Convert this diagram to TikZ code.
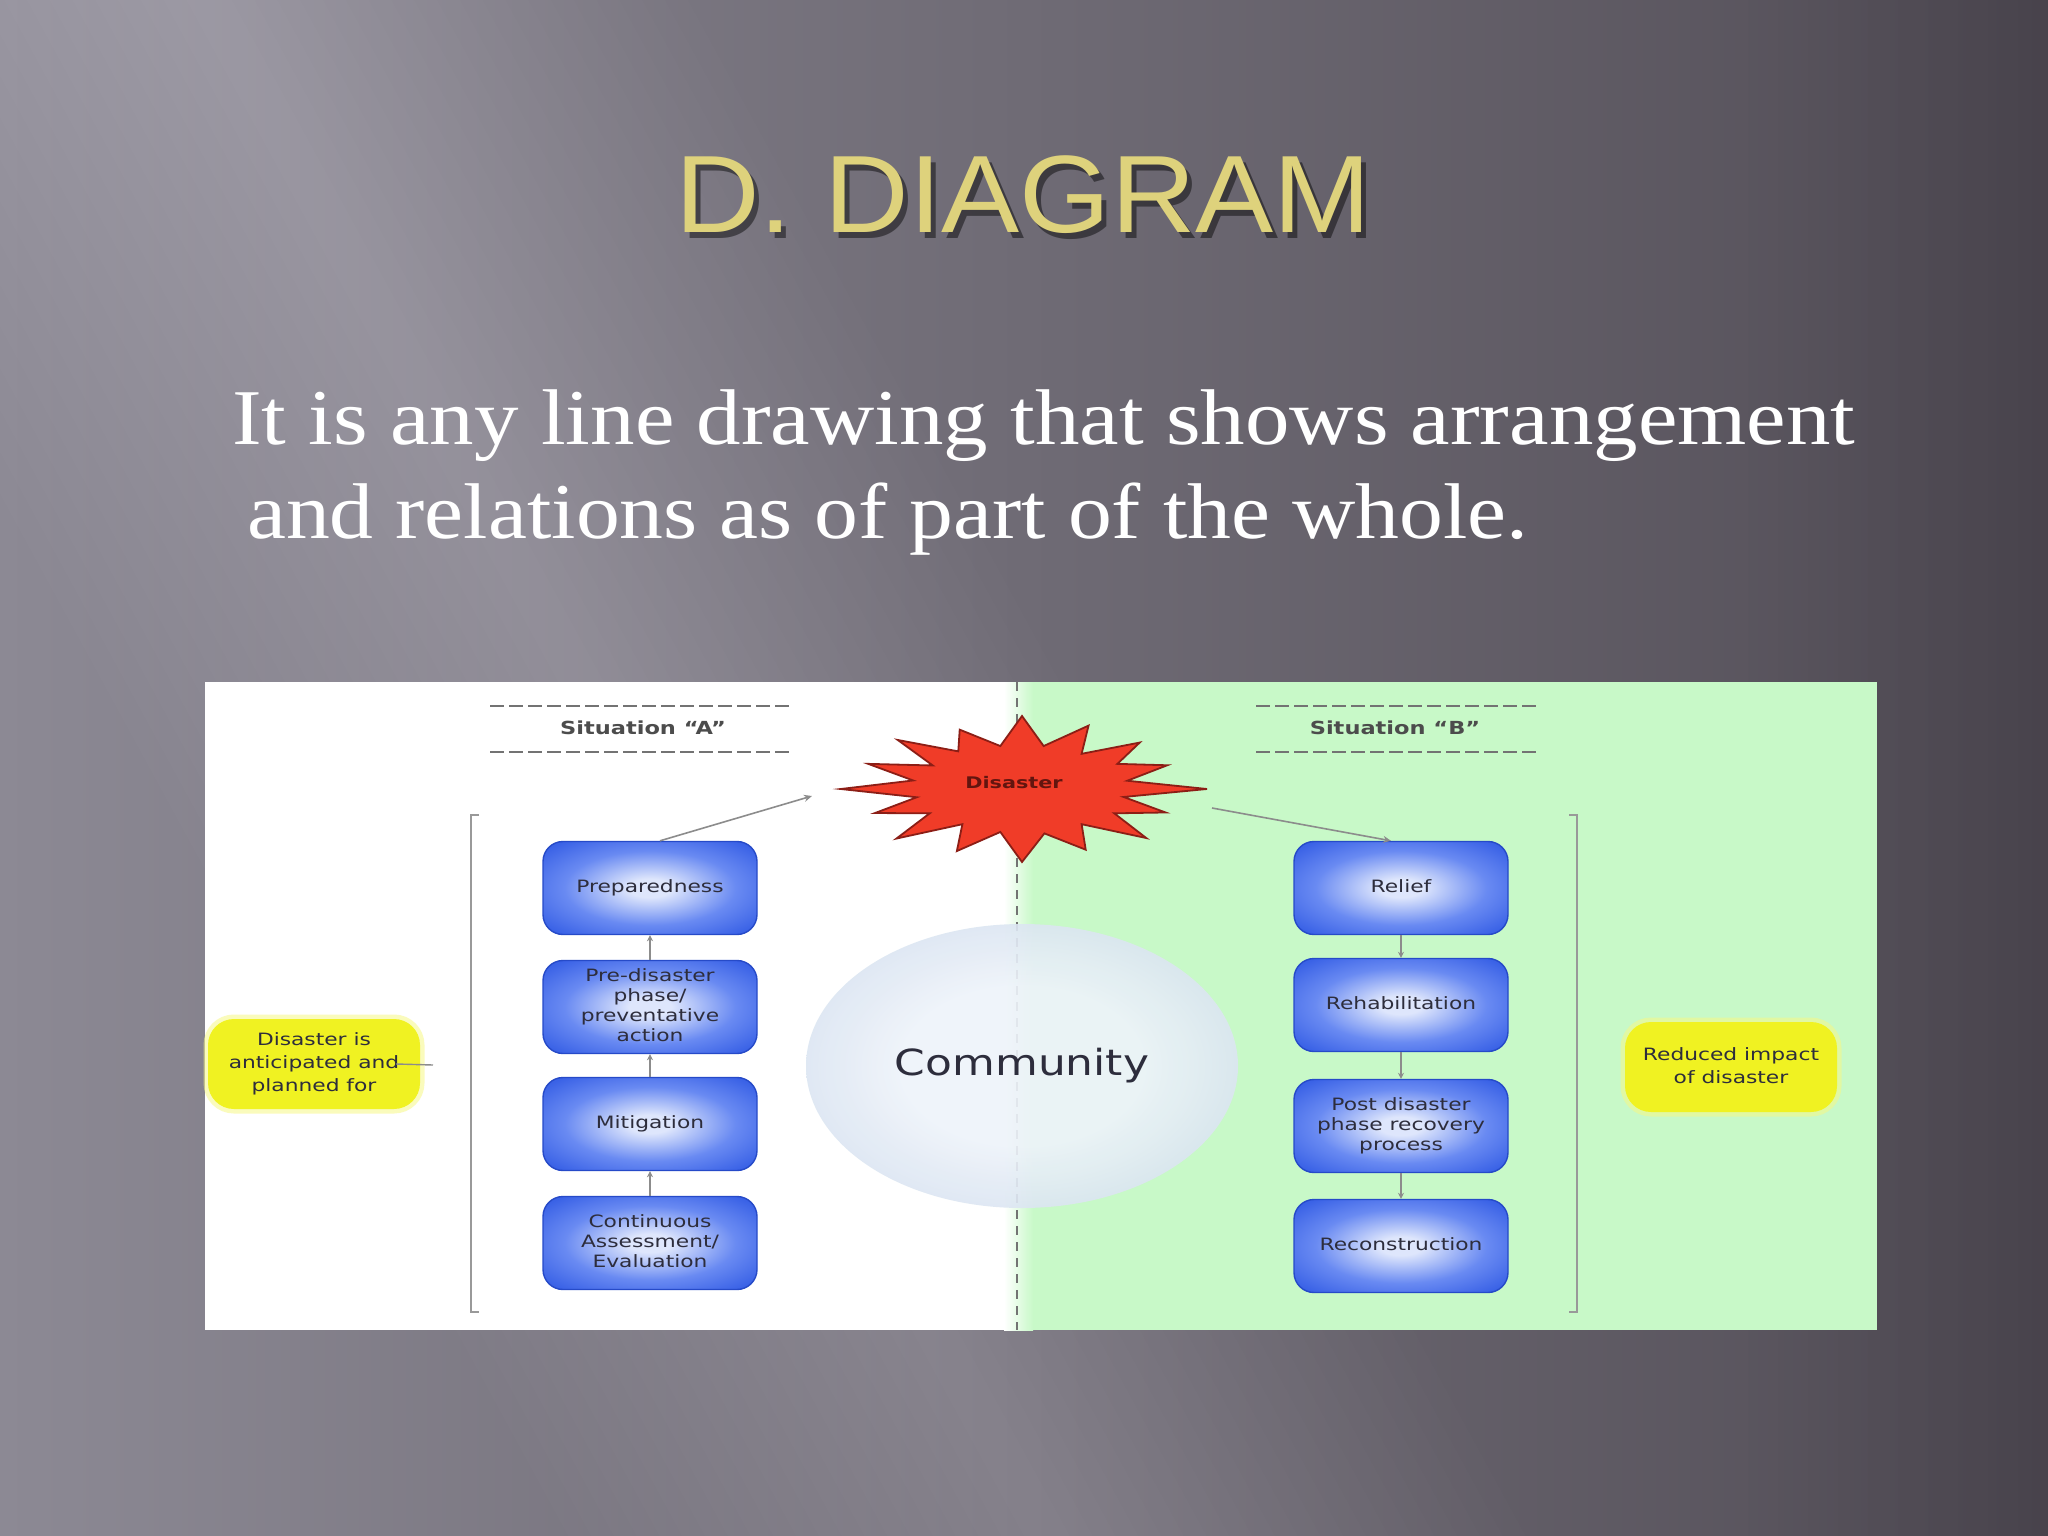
\documentclass[tikz,border=0pt]{standalone}
\usepackage{fontspec}
\setmainfont{Liberation Serif}
\newfontfamily\titlefont{Liberation Sans}
\newfontfamily\dfont{DejaVu Sans}
\usetikzlibrary{arrows.meta,shapes.geometric,calc}
\definecolor{bgL}{RGB}{140,137,148}
\definecolor{bgR}{RGB}{82,77,86}
\definecolor{gold}{RGB}{222,210,124}
\definecolor{bxin}{RGB}{222,230,252}
\definecolor{bxmid}{RGB}{105,138,242}
\definecolor{bxout}{RGB}{58,98,230}
\definecolor{bxline}{RGB}{38,74,200}
\definecolor{ylw}{RGB}{240,242,34}
\definecolor{grn}{RGB}{200,249,200}
\definecolor{txt}{RGB}{45,45,60}
\definecolor{starred}{RGB}{240,60,40}
\definecolor{stardark}{RGB}{140,30,22}
\definecolor{cmin}{RGB}{238,243,250}
\definecolor{cmout}{RGB}{180,200,225}
\pgfdeclareradialshading{boxshade}{\pgfpoint{0bp}{0bp}}{color(0bp)=(bxin); color(5bp)=(bxin); color(20bp)=(bxmid); color(32bp)=(bxout); color(70bp)=(bxout)}
\pgfdeclareradialshading{commshade}{\pgfpoint{0bp}{0bp}}{color(0bp)=(cmin); color(14bp)=(cmin); color(50bp)=(cmout); color(70bp)=(cmout)}
\newcommand{\wt}[2][1.28]{\scalebox{#1}[1]{\begin{tabular}{@{}c@{}}#2\end{tabular}}}
\tikzset{
  bbox/.style={rectangle, rounded corners=20pt, minimum width=214pt, minimum height=93pt,
    shading=boxshade, draw=bxline, line width=1.4pt, inner sep=0pt,
    font=\dfont\fontsize{17}{20}\selectfont, text=txt},
  ybox/.style={rectangle, rounded corners=26pt, minimum width=212pt, minimum height=90pt,
    fill=ylw, inner sep=0pt, preaction={draw=ylw!55!white, line width=9pt, opacity=0.55},
    font=\dfont\fontsize{17}{23}\selectfont, text=txt},
  hdr/.style={inner sep=0pt, font=\dfont\bfseries\fontsize{18}{20}\selectfont, text=black!70},
  hdash/.style={draw=black!55, line width=1.3pt, dash pattern=on 14pt off 5pt},
  conn/.style={draw=black!45, line width=1.6pt, -{Stealth[length=8pt,width=7pt]}},
  sconn/.style={draw=black!45, line width=1.4pt, -{Stealth[length=6pt,width=6pt]}},
}
\begin{document}
\begin{tikzpicture}[x=1pt,y=-1pt]
\useasboundingbox (0,0) rectangle (2048,1536);
% ---------- slide background
\begin{scope}
\clip (0,0) rectangle (2048,1536);
\shade[left color=bgL, right color=bgR] (0,0) rectangle (2048,1536);
\foreach \d in {20,40,...,420} {
  \fill[white, opacity=0.011] ($(100,-200)+({-0.878*\d},{0.479*\d})$) -- ($(1300,2000)+({-0.878*\d},{0.479*\d})$) -- ($(1300,2000)+({0.878*\d},{-0.479*\d})$) -- ($(100,-200)+({0.878*\d},{-0.479*\d})$) -- cycle;
}
\foreach \d in {30,60,...,300} {
  \fill[black, opacity=0.008] (2048-\d,0) rectangle (2048,1536);
}
\end{scope}
% ---------- title
\node[anchor=base west, inner sep=0pt, text=black, opacity=0.45, font=\titlefont\fontsize{110}{120}\selectfont] (tsh) at (680,238) {\resizebox{696pt}{\height}{D. DIAGRAM}};
\node[anchor=base west, inner sep=0pt, text=gold, font=\titlefont\fontsize{110}{120}\selectfont] (title) at (675,232) {\resizebox{696pt}{\height}{D. DIAGRAM}};
% ---------- body text
\node[anchor=base west, inner sep=0pt, text=white, font=\fontsize{79}{95}\selectfont] (l1) at (232,444) {\resizebox{1623pt}{\height}{It is any line drawing that shows arrangement}};
\node[anchor=base west, inner sep=0pt, text=white, font=\fontsize{79}{95}\selectfont] (l2) at (247,538) {\resizebox{1281pt}{\height}{and relations as of part of the whole.}};
% ---------- diagram panel
\fill[white] (205,682) rectangle (1877,1330);
\fill[grn] (1032,682) rectangle (1877,1330);
\shade[left color=white, right color=grn] (1004,682) rectangle (1033,1330);
\draw[draw=black!55, line width=1.6pt, dash pattern=on 9pt off 7pt] (1017,682) -- (1017,1330);
% headers
\node[hdr] (sa) at (643,728) {\scalebox{1.25}[1]{Situation “A”}};
\node[hdr] (sb) at (1395,728) {\scalebox{1.25}[1]{Situation “B”}};
\draw[hdash] (490,706) -- (792,706);
\draw[hdash] (490,752) -- (792,752);
\draw[hdash] (1256,706) -- (1540,706);
\draw[hdash] (1256,752) -- (1540,752);
% brackets
\draw[draw=black!40, line width=2pt] (479,815) -- (471,815) -- (471,1312) -- (479,1312);
\draw[draw=black!40, line width=2pt] (1569,815) -- (1577,815) -- (1577,1312) -- (1569,1312);
% community
\node[ellipse, minimum width=432pt, minimum height=284pt, shading=commshade, fill opacity=0.9, text opacity=1, inner sep=0pt, font=\dfont\fontsize{36}{40}\selectfont, text=txt] (comm) at (1022,1066) {\scalebox{1.22}[1]{Community}};
% disaster star
\begin{scope}[shift={(1022,789)}]
\filldraw[fill=starred, draw=stardark, line width=1.8pt, line join=miter]
  \foreach \a/\r [count=\i] in {0/1.0, 11.25/0.56, 22.5/0.84, 33.75/0.6, 45/0.95, 56.25/0.58, 67.5/0.9, 78.75/0.62, 90/1.0, 101.25/0.6, 112.5/0.92, 123.75/0.58, 135/0.96, 146.25/0.6, 157.5/0.86, 168.75/0.58, 180/0.98, 191.25/0.6, 202.5/0.9, 213.75/0.58, 225/0.95, 236.25/0.62, 247.5/0.88, 258.75/0.6, 270/1.0, 281.25/0.6, 292.5/0.94, 303.75/0.58, 315/0.9, 326.25/0.62, 337.5/0.85, 348.75/0.58} {
    \ifnum\i=1 ({\r*185*cos(\a)},{\r*73*sin(\a)}) \else -- ({\r*185*cos(\a)},{\r*73*sin(\a)}) \fi
  } -- cycle;
\end{scope}
\node[inner sep=0pt, font=\dfont\bfseries\fontsize{16}{18}\selectfont, text=stardark!70!black] (dis) at (1014,783) {\scalebox{1.3}[1]{Disaster}};
\coordinate (dA) at (812,796);
\coordinate (dB) at (1212,808);
% left column
\node[bbox] (prep) at (650,888) {\wt{Preparedness}};
\node[bbox] (pre) at (650,1007) {\wt{Pre-disaster\\phase/\\preventative\\action}};
\node[bbox] (mit) at (650,1124) {\wt{Mitigation}};
\node[bbox] (cont) at (650,1243) {\wt{Continuous\\Assessment/\\Evaluation}};
% right column
\node[bbox] (rel) at (1401,888) {\wt{Relief}};
\node[bbox] (reh) at (1401,1005) {\wt{Rehabilitation}};
\node[bbox] (post) at (1401,1126) {\wt{Post disaster\\phase recovery\\process}};
\node[bbox] (rec) at (1401,1246) {\wt{Reconstruction}};
% yellow notes
\node[ybox] (yl) at (314,1064) {\wt{Disaster is\\anticipated and\\planned for}};
\node[ybox] (yr) at (1731,1067) {\wt{Reduced impact\\of disaster}};
\coordinate (ylt) at (433,1065);
\draw[draw=black!45, line width=1.4pt] ([xshift=-24pt]yl.east) -- (ylt);
% connectors
\draw[conn] ([xshift=10pt]prep.north) -- (dA);
\draw[conn] (dB) -- ([xshift=-10pt]rel.north);
\draw[sconn] (pre.north) -- (prep.south);
\draw[sconn] (mit.north) -- (pre.south);
\draw[sconn] (cont.north) -- (mit.south);
\draw[sconn] (rel.south) -- (reh.north);
\draw[sconn] (reh.south) -- (post.north);
\draw[sconn] (post.south) -- (rec.north);
\end{tikzpicture}
\end{document}
